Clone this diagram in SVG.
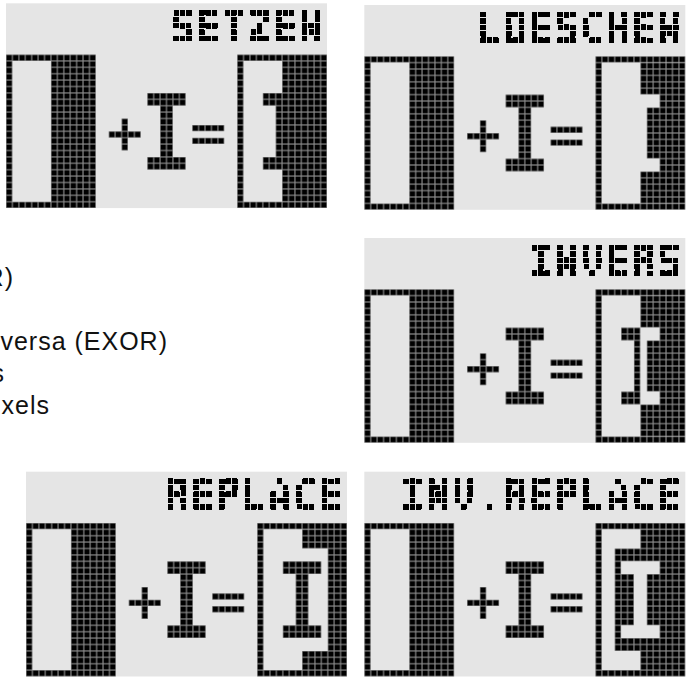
<svg xmlns="http://www.w3.org/2000/svg" xmlns:xlink="http://www.w3.org/1999/xlink" width="687" height="680" viewBox="0 0 687 680">
<style>
.bg{fill:#e5e5e5}
.px{fill:url(#cell)}
.lcd{font-family:"DejaVu Sans Mono",monospace;font-weight:700;font-size:6.7px;text-anchor:middle;fill:url(#dot);filter:url(#lcdcells)}
.body{font-family:"Liberation Sans",Arial,sans-serif;font-size:25px;letter-spacing:1px;text-anchor:end;fill:#111}
</style>
<defs>
<pattern id="cell" patternUnits="userSpaceOnUse" width="1" height="1">
<rect width="1" height="1" fill="#8c8c8c"/>
<rect x=".09" y=".09" width=".82" height=".82" fill="#000"/>
</pattern>
<pattern id="dot" patternUnits="userSpaceOnUse" width="1" height="1">
<rect x=".38" y=".38" width=".24" height=".24" fill="#000"/>
</pattern>
<filter id="lcdcells" x="-5%" y="-20%" width="110%" height="140%" color-interpolation-filters="sRGB">
<feMorphology operator="dilate" radius=".33"/>
<feComponentTransfer><feFuncA type="discrete" tableValues="0 1 1"/></feComponentTransfer>
<feGaussianBlur stdDeviation=".05"/>
</filter>
<g id="common">
<rect class="bg" width="50" height="32"/>
<path class="px" d="M0 8h14v24H0zM1 9v22h6V9zM18 18h1v2h2v1h-2v2h-1v-2h-2v-1h2zM22 14h6v2h-2v8h2v2h-6v-2h2v-8h-2zM29 19h5v1h-5zM29 21h5v1h-5z" fill-rule="evenodd"/>
<path class="px" transform="translate(36 8)" d="M0 0h14v1H0zM0 23h14v1H0zM0 1h1v22H0z"/>
</g>
</defs>
<g id="setzen" transform="translate(6 3.3) scale(6.42 6.4)">
<use xlink:href="#common" href="#common"/>
<path class="px" transform="translate(36 8)" d="M7 1h7v22H7zM4 6h3v2H4zM6 8h1v8H6zM4 16h3v2H4z"/>
<text class="lcd" y="6" x="27.5 31.5 35.5 39.5 43.5 47.5">SETZEN</text>
</g>
<g id="loeschen" transform="translate(364.3 5) scale(6.42 6.4)">
<use xlink:href="#common" href="#common"/>
<path class="px" transform="translate(36 8)" d="M7 1h7v5H7zM10 6h4v12h-4zM8 8h2v8H8zM7 18h7v5H7z"/>
<text class="lcd" y="6" x="19.5 23.5 27.5 31.5 35.5 39.5 43.5 47.5">LOESCHEN</text>
</g>
<g id="invers" transform="translate(364.3 238) scale(6.42 6.4)">
<use xlink:href="#common" href="#common"/>
<path class="px" transform="translate(36 8)" d="M7 1h7v5H7zM10 6h4v12h-4zM8 8h2v8H8zM7 18h7v5H7zM4 6h3v2H4zM6 8h1v8H6zM4 16h3v2H4z"/>
<text class="lcd" y="6" x="27.5 31.5 35.5 39.5 43.5 47.5">INVERS</text>
</g>
<g id="replace" transform="translate(26 471.7) scale(6.42 6.4)">
<use xlink:href="#common" href="#common"/>
<path class="px" transform="translate(36 8)" d="M7 1h7v3H7zM11 4h3v16h-3zM7 20h7v3H7zM4 6h6v2H8v8h2v2H4v-2h2V8H4z"/>
<text class="lcd" y="6" x="23.5 27.5 31.5 35.5 39.5 43.5 47.5">REPLACE</text>
</g>
<g id="inv-replace" transform="translate(364.3 471.7) scale(6.42 6.4)">
<use xlink:href="#common" href="#common"/>
<path class="px" transform="translate(36 8)" d="M7 1h7v3H7zM11 4h3v16h-3zM7 20h7v3H7zM3 4h8v2H3zM3 6h1v12H3zM3 18h8v2H3zM10 6h1v12h-1zM4 8h2v8H4zM8 8h2v8H8z"/>
<text class="lcd" y="6" x="7.5 11.5 15.5 19.5 23.5 27.5 31.5 35.5 39.5 43.5 47.5">INV.REPLACE</text>
</g>
<g id="caption">
<text class="body" x="14" y="286">R)</text>
<text class="body" x="168" y="350">versa (EXOR)</text>
<text class="body" x="5" y="382">s</text>
<text class="body" x="50" y="414">xels</text>
</g>
</svg>
